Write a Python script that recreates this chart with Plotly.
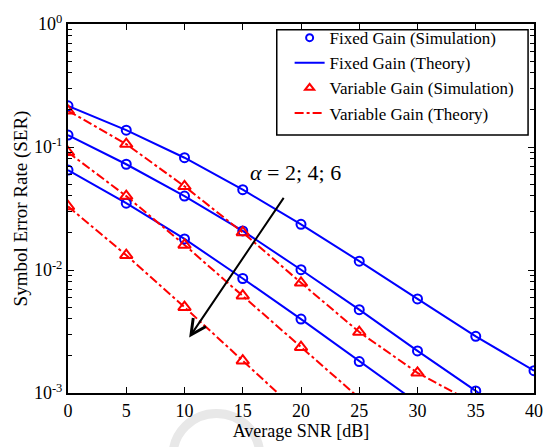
import plotly.graph_objects as go
import math

snr = [0, 5, 10, 15, 20, 25, 30, 35, 40]

# Fixed gain simulation (alpha = 2, 4, 6)
fg_sim_a2 = [0.216, 0.137, 0.0818, 0.045, 0.0235, 0.0118, 0.00582, 0.00289, 0.00152]
fg_sim_a4 = [0.125, 0.0724, 0.0399, 0.0208, 0.01005, 0.00476, 0.0022, 0.00104]
fg_sim_a6 = [0.0649, 0.0349, 0.0179, 0.00853, 0.00399, 0.0018]
# Fixed gain theory
fg_th_a2 = [0.216, 0.137, 0.0818, 0.045, 0.0235, 0.0118, 0.00582, 0.00289, 0.00152]
fg_th_a4 = [0.125, 0.0724, 0.0399, 0.0208, 0.01005, 0.00476, 0.0022, 0.00104, 0.00046]
fg_th_a6 = [0.0649, 0.0349, 0.0179, 0.00853, 0.00399, 0.0018, 0.00083]

# Variable gain simulation
vg_sim_a2 = [0.197, 0.1056, 0.0479, 0.0202, 0.00787, 0.00313, 0.00146]
vg_sim_a4 = [0.0906, 0.0399, 0.016, 0.00618, 0.00236]
vg_sim_a6 = [0.0329, 0.0132, 0.00499, 0.00183]
# Variable gain theory
vg_th_a2 = [0.197, 0.1056, 0.0479, 0.0202, 0.00787, 0.00313, 0.00146, 0.00081]
vg_th_a4 = [0.0906, 0.0399, 0.016, 0.00618, 0.00236, 0.00091]
vg_th_a6 = [0.0329, 0.0132, 0.00499, 0.00183, 0.00067]

legend_names = ["Fixed Gain (Simulation)", "Fixed Gain (Theory)",
                "Variable Gain (Simulation)", "Variable Gain (Theory)"]
annot_text = "<i>α</i> = 2; 4; 6"
arrow_start = (18.6, 0.0397)
arrow_end = (10.4, 0.00282)
text_pos = (19.5, 0.0615)

y_tickvals = [1e-3, 1e-2, 1e-1, 1]
y_ticktext = ["10<sup>-3</sup>", "10<sup>-2</sup>", "10<sup>-1</sup>", "10<sup>0</sup>"]

BLUE = "#0000ff"
RED = "#ff0000"
FONT = "Liberation Serif"

# plot area in pixels (for paper-coordinate conversion)
L, R, T, B = 68, 539, 16, 395
def px(xp):
    return (xp - L) / (R - L)
def py(yp):
    return (B - yp) / (B - T)

fig = go.Figure()

for ys in [fg_th_a2, fg_th_a4, fg_th_a6]:
    fig.add_trace(go.Scatter(x=snr[:len(ys)], y=ys, mode="lines",
                             line=dict(color=BLUE, width=2),
                             name=legend_names[1], showlegend=False))
for ys in [vg_th_a2, vg_th_a4, vg_th_a6]:
    fig.add_trace(go.Scatter(x=snr[:len(ys)], y=ys, mode="lines",
                             line=dict(color=RED, width=2, dash="dashdot"),
                             name=legend_names[3], showlegend=False))
for ys in [fg_sim_a2, fg_sim_a4, fg_sim_a6]:
    fig.add_trace(go.Scatter(x=snr[:len(ys)], y=ys, mode="markers",
                             marker=dict(symbol="circle-open", size=9,
                                         color=BLUE, line=dict(width=2)),
                             name=legend_names[0], showlegend=False))
for ys in [vg_sim_a2, vg_sim_a4, vg_sim_a6]:
    fig.add_trace(go.Scatter(x=snr[:len(ys)], y=ys, mode="markers",
                             marker=dict(symbol="triangle-up-open", size=11,
                                         color=RED, line=dict(width=2)),
                             name=legend_names[2], showlegend=False))

# legend entries
fig.add_trace(go.Scatter(x=[None], y=[None], mode="markers",
                         marker=dict(symbol="circle-open", size=7, color=BLUE, line=dict(width=2)),
                         name=legend_names[0]))
fig.add_trace(go.Scatter(x=[None], y=[None], mode="lines",
                         line=dict(color=BLUE, width=2), name=legend_names[1]))
fig.add_trace(go.Scatter(x=[None], y=[None], mode="markers",
                         marker=dict(symbol="triangle-up-open", size=8, color=RED, line=dict(width=2)),
                         name=legend_names[2]))
fig.add_trace(go.Scatter(x=[None], y=[None], mode="lines",
                         line=dict(color=RED, width=2, dash="dashdot"), name=legend_names[3]))

fig.add_annotation(x=arrow_end[0], y=math.log10(arrow_end[1]),
                   ax=arrow_start[0], ay=math.log10(arrow_start[1]),
                   xref="x", yref="y", axref="x", ayref="y",
                   showarrow=True, arrowhead=5, arrowsize=1.5, arrowwidth=2,
                   arrowcolor="black", text="")
fig.add_annotation(x=text_pos[0], y=math.log10(text_pos[1]), xref="x", yref="y",
                   text=annot_text, showarrow=False,
                   font=dict(family=FONT, size=22, color="black"))

# legend box
fig.add_shape(type="rect", xref="paper", yref="paper",
              x0=px(279), x1=px(533), y0=py(130), y1=py(22),
              line=dict(color="black", width=1.5), fillcolor="white", layer="above")

# faint watermark ring
fig.add_shape(type="circle", xref="paper", yref="paper",
              x0=px(174), x1=px(262), y0=py(504), y1=py(416),
              line=dict(color="#e8e8e8", width=9), layer="below")

axis_common = dict(showline=True, linecolor="black", linewidth=2, mirror="allticks",
                   ticks="inside", ticklen=6, tickcolor="black", tickwidth=1,
                   showgrid=False, zeroline=False)

fig.update_xaxes(range=[0, 40], tickmode="linear", tick0=0, dtick=5,
                 tickfont=dict(family=FONT, size=18, color="black"),
                 title=dict(text="Average SNR [dB]", standoff=2,
                            font=dict(family=FONT, size=18, color="black")),
                 **axis_common)
fig.update_yaxes(type="log", range=[-3, 0], tickvals=y_tickvals, ticktext=y_ticktext,
                 tickfont=dict(family=FONT, size=18, color="black"),
                 minor=dict(ticks="inside", ticklen=4, tickcolor="black", dtick="D1", showgrid=False),
                 title=dict(text="Symbol Error Rate (SER)", standoff=1,
                            font=dict(family=FONT, size=19, color="black")),
                 **axis_common)

fig.update_layout(width=555, height=447,
                  margin=dict(l=68, r=16, t=16, b=52),
                  paper_bgcolor="white", plot_bgcolor="white",
                  font=dict(family=FONT, color="black"),
                  legend=dict(x=px(292), y=py(12), xanchor="left", yanchor="top",
                              bgcolor="rgba(0,0,0,0)", borderwidth=0,
                              font=dict(family=FONT, size=17, color="black"),
                              tracegroupgap=0, itemwidth=30),
                  showlegend=True)

fig.write_html("out.html")
